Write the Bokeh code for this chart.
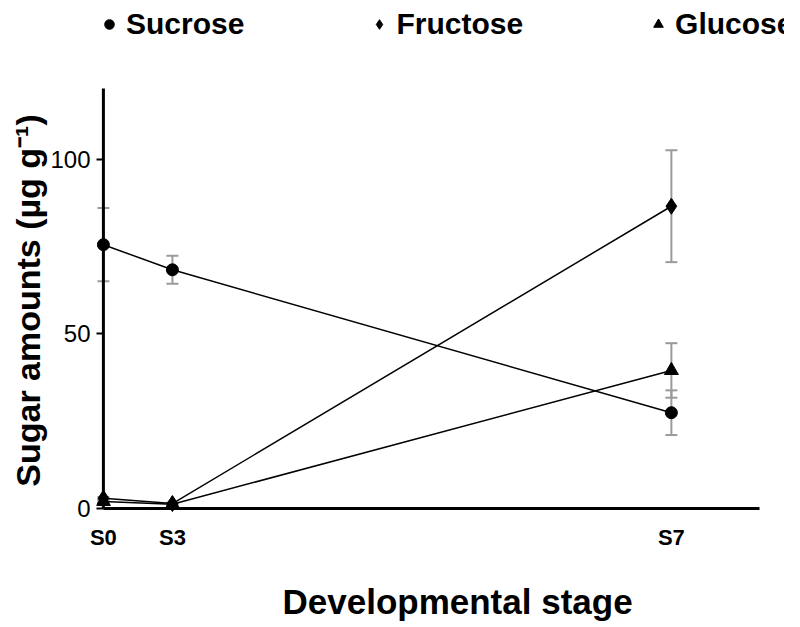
from bokeh.plotting import figure
from bokeh.models import FixedTicker, Whisker, ColumnDataSource, Legend, LegendItem, TeeHead, Title
from bokeh.embed import file_html
from bokeh.resources import INLINE

# ---- data ----
stages = ["S0", "S3", "S7"]
stage_pos = [0, 1, 8.23]
sucrose = [75.5, 68.3, 27.4]
sucrose_err = [10.5, 4.0, 6.4]
fructose = [2.9, 1.4, 86.5]
fructose_err = [0.4, 0.3, 16.0]
glucose = [2.0, 1.2, 39.5]
glucose_err = [0.3, 0.2, 7.8]
y_ticks = [0, 50, 100]

FONT = "Liberation Sans"
AXIS_RIGHT = 9.507
AXIS_TOP = 120.2
X_START, X_END = -0.10, 9.869
Y_START, Y_END = -2.02, 145.39

p = figure(width=None, height=None, frame_width=688, frame_height=515,
           x_range=(X_START, X_END), y_range=(Y_START, Y_END),
           output_backend="svg", toolbar_location=None,
           min_border_left=96, min_border_right=0, min_border_top=0, min_border_bottom=8)
p.grid.visible = False
p.outline_line_color = None
p.background_fill_color = "white"

# axes lines
p.segment(x0=[0, 0], y0=[0, 0], x1=[0, AXIS_RIGHT], y1=[AXIS_TOP, 0], line_width=3, line_color="black")

series = [
    ("Sucrose", sucrose, sucrose_err, "circle", 12),
    ("Fructose", fructose, fructose_err, "diamond", 16),
    ("Glucose", glucose, glucose_err, "triangle", 14),
]

items = []
for name, vals, errs, marker, size in series:
    src = ColumnDataSource(dict(x=stage_pos, y=vals,
                                upper=[v + e for v, e in zip(vals, errs)],
                                lower=[v - e for v, e in zip(vals, errs)]))
    w = Whisker(base="x", upper="upper", lower="lower", source=src,
                line_color="#9a9a9a", line_width=2, level="underlay",
                upper_head=TeeHead(size=12, line_color="#9a9a9a", line_width=2),
                lower_head=TeeHead(size=12, line_color="#9a9a9a", line_width=2))
    p.add_layout(w)
    p.line("x", "y", source=src, line_color="black", line_width=1.5)
    r = p.scatter("x", "y", source=src, marker=marker, size=size, color="black")
    items.append(LegendItem(label=name, renderers=[r]))

legend = Legend(items=items, orientation="horizontal", location=(1, 474),
                glyph_width=24, glyph_height=24, label_standoff=5, spacing=123,
                label_text_font=FONT, label_text_font_style="bold", label_text_font_size="30px",
                label_text_color="black",
                border_line_color=None, background_fill_alpha=0, padding=0, margin=0)
p.add_layout(legend, "center")

# y axis
p.yaxis.ticker = FixedTicker(ticks=y_ticks)
p.yaxis.axis_line_color = None
p.yaxis.major_tick_in = 7
p.yaxis.major_tick_out = 0
p.yaxis.major_tick_line_width = 2
p.yaxis.minor_tick_line_color = None
p.yaxis.major_label_text_font = FONT
p.yaxis.major_label_text_font_size = "24px"
p.yaxis.major_label_text_color = "black"
p.yaxis.major_label_standoff = 6
p.yaxis.axis_label = "Sugar amounts (µg g⁻¹)" + "\u00a0" * 9
p.yaxis.axis_label_text_font = FONT
p.yaxis.axis_label_text_font_style = "bold"
p.yaxis.axis_label_text_font_size = "34px"
p.yaxis.axis_label_text_color = "black"
p.yaxis.axis_label_standoff = 0

# x axis
p.xaxis.ticker = FixedTicker(ticks=stage_pos)
p.xaxis.major_label_overrides = {pos: s for pos, s in zip(stage_pos, stages)}
p.xaxis.axis_line_color = None
p.xaxis.major_tick_line_color = None
p.xaxis.minor_tick_line_color = None
p.xaxis.major_label_text_font = FONT
p.xaxis.major_label_text_font_style = "bold"
p.xaxis.major_label_text_font_size = "22px"
p.xaxis.major_label_text_color = "black"
p.xaxis.major_label_standoff = 3

xtitle = Title(text="Developmental stage", align="left", offset=186, standoff=55,
               text_font=FONT, text_font_style="bold", text_font_size="35px",
               text_color="black")
p.add_layout(xtitle, "below")

open("out.html", "w").write(file_html(p, INLINE))
